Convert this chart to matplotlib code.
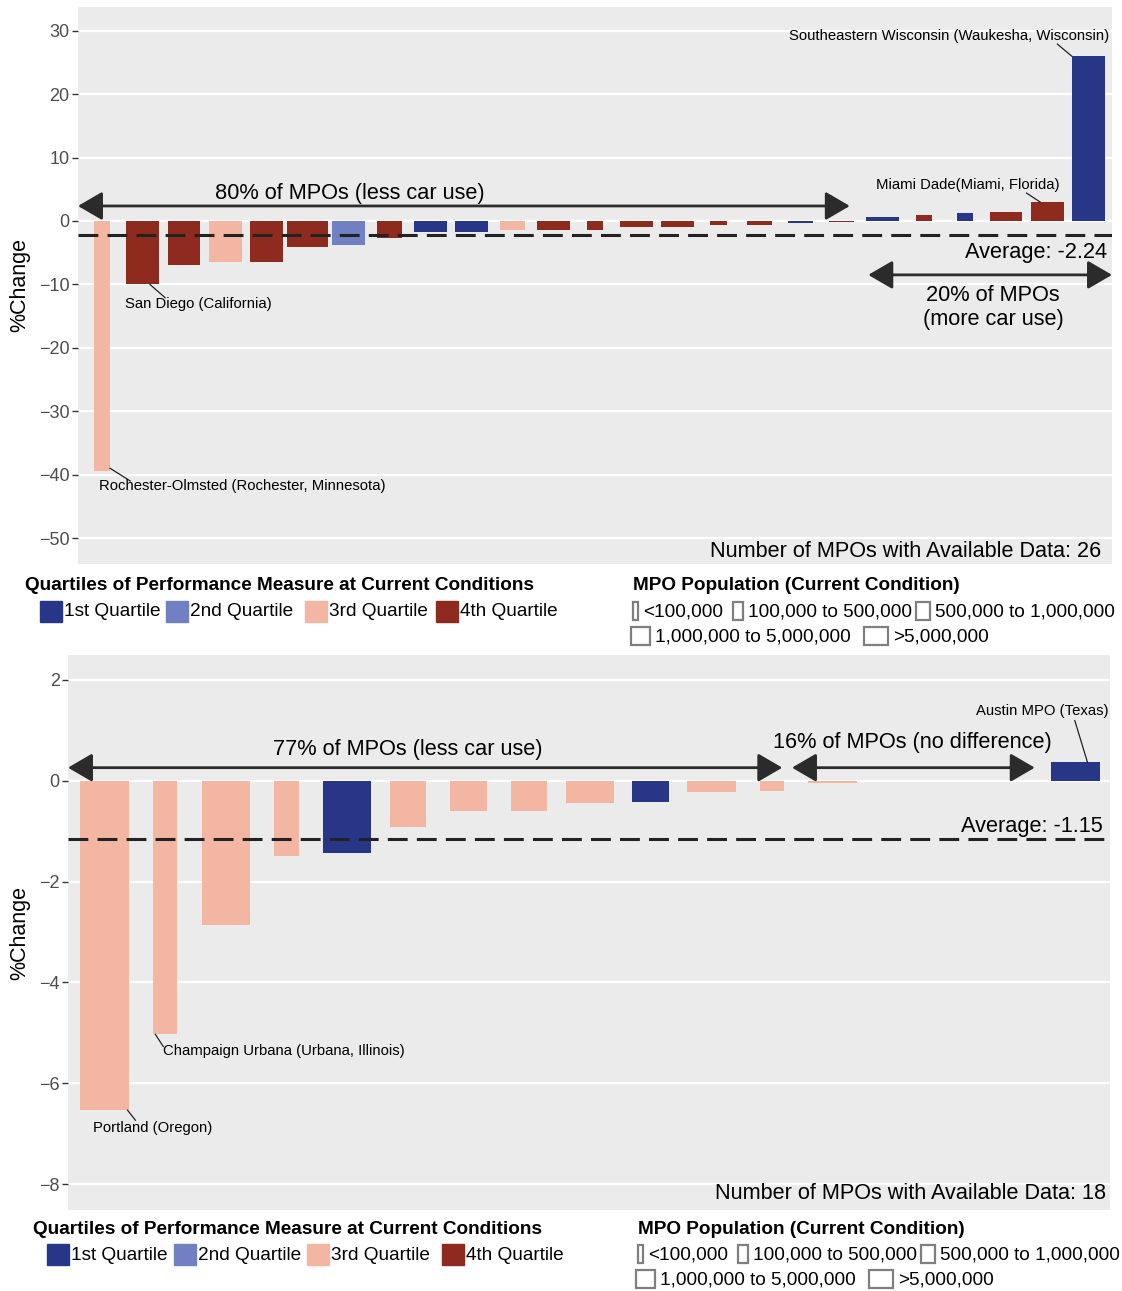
import numpy as np
import matplotlib
matplotlib.use("Agg")
import matplotlib.pyplot as plt
from matplotlib.patches import Rectangle

plt.rcParams['font.family'] = ['Liberation Sans', 'DejaVu Sans']

# quartile colours (1st..4th) and population-class bar widths
quart_colors = ['#283687', '#7180C2', '#F2B6A3', '#8E2A1E']
quart_labels = ['1st Quartile', '2nd Quartile', '3rd Quartile', '4th Quartile']
pop_labels = ['<100,000', '100,000 to 500,000', '500,000 to 1,000,000',
              '1,000,000 to 5,000,000', '>5,000,000']
pop_widths = [0.2, 0.4, 0.6, 0.8, 1.0]

# upper panel: % change per MPO
top_change = [-39.4, -10.0, -7.0, -6.5, -6.5, -4.1, -3.8, -2.7, -1.8, -1.8,
              -1.5, -1.5, -1.5, -1.0, -1.0, -0.7, -0.6, -0.35, -0.15,
              0.6, 0.9, 1.3, 1.35, 3.0, 26.0]
top_quart = [3, 4, 4, 3, 4, 4, 2, 4, 1, 1, 3, 4, 4, 4, 4, 4, 4, 1, 4,
             1, 4, 1, 4, 4, 1]
top_pop = [2, 4, 4, 4, 4, 5, 4, 3, 4, 4, 3, 4, 2, 4, 4, 2, 3, 3, 3,
           4, 2, 2, 4, 4, 4]
top_avg = -2.24
top_n = 26

# lower panel
bot_change = [-6.53, -5.03, -2.87, -1.50, -1.44, -0.92, -0.61, -0.60, -0.45,
              -0.42, -0.22, -0.20, -0.04, 0.0, 0.0, 0.0, 0.36]
bot_quart = [3, 3, 3, 3, 1, 3, 3, 3, 3, 1, 3, 3, 3, 3, 3, 3, 1]
bot_pop = [4, 2, 4, 2, 4, 3, 3, 3, 4, 3, 4, 2, 4, 3, 3, 3, 4]
bot_avg = -1.15
bot_n = 18

W, H = 1122, 1291
fig = plt.figure(figsize=(W / 100, H / 100), dpi=100)

# full-figure overlay in pixel units for the legends
lay = fig.add_axes([0, 0, 1, 1])
lay.set_xlim(0, W)
lay.set_ylim(H, 0)
lay.axis('off')

BIG = 15.7
SMALL = 10.7
LEG = 13.7


def px_rect(l, t, r, b):
    return [l / W, (H - b) / H, (r - l) / W, (b - t) / H]


def style_axes(ax, ylim, yticks):
    ax.set_facecolor('#EBEBEB')
    for s in ax.spines.values():
        s.set_visible(False)
    ax.set_ylim(*ylim)
    ax.set_yticks(yticks)
    ax.set_xticks([])
    ax.tick_params(axis='y', length=4, width=1, color='#333333',
                   labelcolor='#4D4D4D', labelsize=13, pad=2)
    ax.grid(axis='y', color='white', lw=1.6)
    ax.set_axisbelow(True)
    ax.set_ylabel('%Change', fontsize=15.5, labelpad=6)


def bars(ax, vals, quart, pop):
    x = np.arange(len(vals))
    w = [pop_widths[p - 1] for p in pop]
    c = [quart_colors[q - 1] for q in quart]
    ax.bar(x, vals, width=w, color=c, zorder=2)


def avg_line(ax, avg):
    ax.axhline(avg, color='#222222', lw=2.2, dashes=(6.5, 3.0), zorder=3)


def darrow(ax, x0, x1, y):
    ax.annotate('', xy=(x1, y), xytext=(x0, y),
                arrowprops=dict(arrowstyle='<|-|>,head_length=0.6,head_width=0.35',
                                mutation_scale=25, color='#2B2B2B', lw=2,
                                shrinkA=0, shrinkB=0), zorder=4)


def leader(ax, text, p0, p1, tpos, ha):
    ax.plot([p0[0], p1[0]], [p0[1], p1[1]], color='#222222', lw=0.9, zorder=4)
    ax.text(tpos[0], tpos[1], text, ha=ha, va='center', fontsize=SMALL, zorder=4)


def legends(ql, qy, q_box_x, pl, py, p_rows):
    lay.text(ql, qy, 'Quartiles of Performance Measure at Current Conditions',
             fontsize=LEG, fontweight='bold', va='center', ha='left')
    iy = qy + 25
    for bx, col, lab in zip(q_box_x, quart_colors, quart_labels):
        lay.add_patch(Rectangle((bx, iy - 10.5), 22, 21, color=col))
        lay.text(bx + 24, iy + 1, lab, fontsize=LEG, va='center', ha='left')
    lay.text(pl, py, 'MPO Population (Current Condition)',
             fontsize=LEG, fontweight='bold', va='center', ha='left')
    k = 0
    for r, row in enumerate(p_rows):
        ry = py + 25 + 25 * r
        for bx in row:
            bw = pop_widths[k] * 24
            lay.add_patch(Rectangle((bx, ry - 9), bw, 18, fill=False,
                                    ec='#7F7F7F', lw=1.6))
            lay.text(bx + bw + 5, ry + 1, pop_labels[k], fontsize=LEG,
                     va='center', ha='left')
            k += 1


# ---- upper panel ----
ax1 = fig.add_axes(px_rect(78, 7, 1112, 564))
style_axes(ax1, (-54.1, 33.75), [30, 20, 10, 0, -10, -20, -30, -40, -50])
ax1.set_xlim(-0.58, 24.58)
bars(ax1, top_change, top_quart, top_pop)
avg_line(ax1, top_avg)
darrow(ax1, -0.58, 18.2, 2.37)
ax1.text(6.04, 4.4, '80% of MPOs (less car use)', fontsize=BIG, ha='center', va='center')
darrow(ax1, 18.65, 24.58, -8.5)
ax1.text(21.69, -13.6, '20% of MPOs\n(more car use)', fontsize=BIG, ha='center',
         va='center', linespacing=1.2)
ax1.annotate('Average: %.2f' % top_avg, xy=(24.58, top_avg), xytext=(-5, -17),
             textcoords='offset pixels', ha='right', va='center', fontsize=BIG)
ax1.text(0.99, 0.023, 'Number of MPOs with Available Data: %d' % top_n,
         transform=ax1.transAxes, ha='right', va='center', fontsize=15.6)
leader(ax1, 'Rochester-Olmsted (Rochester, Minnesota)', (0.2, top_change[0] + 0.4),
       (0.69, -41.0), (-0.07, -41.8), 'left')
leader(ax1, 'San Diego (California)', (1.17, top_change[1]), (1.54, -12.1),
       (0.57, -13.1), 'left')
leader(ax1, 'Southeastern Wisconsin (Waukesha, Wisconsin)', (23.25, 27.9),
       (23.6, top_change[24]), (24.5, 29.2), 'right')
leader(ax1, 'Miami Dade(Miami, Florida)', (22.5, 4.4), (22.83, top_change[23]),
       (21.06, 5.7), 'center')

legends(25, 586, [40, 166, 305, 436], 633, 586, [[633, 733, 916], [631, 864]])

# ---- lower panel ----
ax2 = fig.add_axes(px_rect(68, 655, 1110, 1210))
style_axes(ax2, (-8.51, 2.49), [2, 0, -2, -4, -6, -8])
ax2.set_xlim(-0.6, 16.57)
bars(ax2, bot_change, bot_quart, bot_pop)
avg_line(ax2, bot_avg)
darrow(ax2, -0.6, 11.17, 0.257)
ax2.text(5.0, 0.61, '77% of MPOs (less car use)', fontsize=BIG, ha='center', va='center')
darrow(ax2, 11.33, 15.33, 0.257)
ax2.text(13.32, 0.75, '16% of MPOs (no difference)', fontsize=BIG, ha='center', va='center')
ax2.annotate('Average: %.2f' % bot_avg, xy=(16.57, bot_avg), xytext=(-7, 12),
             textcoords='offset pixels', ha='right', va='center', fontsize=BIG)
ax2.text(0.996, 0.029, 'Number of MPOs with Available Data: %d' % bot_n,
         transform=ax2.transAxes, ha='right', va='center', fontsize=15.6)
leader(ax2, 'Portland (Oregon)', (0.38, bot_change[0]), (0.51, -6.73),
       (-0.18, -6.89), 'left')
leader(ax2, 'Champaign Urbana (Urbana, Illinois)', (0.84, bot_change[1]),
       (0.97, -5.27), (0.97, -5.35), 'left')
leader(ax2, 'Austin MPO (Texas)', (15.99, 1.19), (16.2, bot_change[16]),
       (16.54, 1.39), 'right')

legends(33, 1229, [47, 174, 307, 442], 638, 1229, [[638, 738, 921], [636, 869]])

fig.savefig('out.png', dpi=100)
